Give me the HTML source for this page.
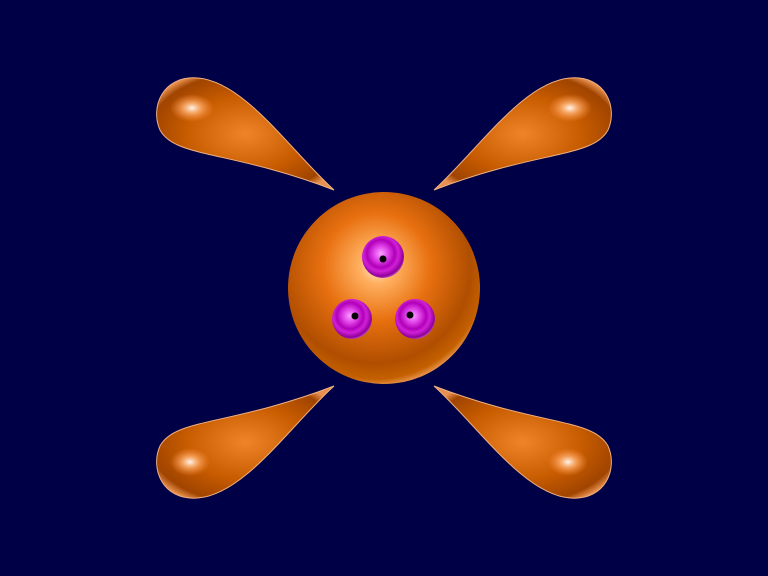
<!DOCTYPE html>
<html><head><meta charset="utf-8"><style>html,body{margin:0;padding:0;background:#000046;}svg{display:block}</style></head>
<body>
<svg width="768" height="576" viewBox="0 0 768 576">
<defs>
<radialGradient id="sph" cx="0.45" cy="0.4" r="0.62" fx="0.47" fy="0.38">
<stop offset="0" stop-color="#fff4e8"/><stop offset="0.15" stop-color="#ffb060"/><stop offset="0.45" stop-color="#e87010"/><stop offset="0.8" stop-color="#b04e00"/><stop offset="0.93" stop-color="#c46000"/><stop offset="1" stop-color="#f0a060"/>
</radialGradient>
<radialGradient id="lobe" cx="0.5" cy="0.5" r="0.6">
<stop offset="0" stop-color="#f08428"/><stop offset="0.55" stop-color="#c85c00"/><stop offset="0.9" stop-color="#a04400"/><stop offset="1" stop-color="#e89050"/>
</radialGradient>
<radialGradient id="hl"><stop offset="0" stop-color="#fff6ee"/><stop offset="0.4" stop-color="#ffb070" stop-opacity="0.8"/><stop offset="1" stop-color="#ff9040" stop-opacity="0"/></radialGradient>
<radialGradient id="mag" cx="0.45" cy="0.42" r="0.6">
<stop offset="0" stop-color="#f8a0ff"/><stop offset="0.3" stop-color="#e040e8"/><stop offset="0.55" stop-color="#b000b8"/><stop offset="0.7" stop-color="#d020d8"/><stop offset="0.9" stop-color="#900098"/><stop offset="1" stop-color="#c060c8"/>
</radialGradient>
</defs>
<rect width="768" height="576" fill="#000046"/>
<g>
<path d="M334,190 C290,150 245,82 198,78 C162,75 150,108 160,130 C175,158 230,150 334,190 Z" fill="url(#lobe)" stroke="#f0b080" stroke-width="1"/>
<ellipse cx="192" cy="108" rx="22" ry="14" fill="url(#hl)"/>
</g>
<g>
<path d="M434,190 C478,150 523,82 570,78 C606,75 618,108 608,130 C593,158 538,150 434,190 Z" fill="url(#lobe)" stroke="#f0b080" stroke-width="1"/>
<ellipse cx="570" cy="108" rx="22" ry="14" fill="url(#hl)"/>
</g>
<g>
<path d="M334,386 C290,426 245,494 198,498 C162,501 150,468 160,446 C175,418 230,426 334,386 Z" fill="url(#lobe)" stroke="#f0b080" stroke-width="1"/>
<ellipse cx="190" cy="462" rx="20" ry="14" fill="url(#hl)"/>
</g>
<g>
<path d="M434,386 C478,426 523,494 570,498 C606,501 618,468 608,446 C593,418 538,426 434,386 Z" fill="url(#lobe)" stroke="#f0b080" stroke-width="1"/>
<ellipse cx="568" cy="462" rx="20" ry="14" fill="url(#hl)"/>
</g>
<circle cx="384" cy="288" r="96" fill="url(#sph)"/>
<g><circle cx="383" cy="257" r="21" fill="url(#mag)"/><circle cx="383" cy="259" r="3.5" fill="#000"/></g>
<g><circle cx="352" cy="319" r="20" fill="url(#mag)"/><circle cx="355" cy="316" r="3.5" fill="#000"/></g>
<g><circle cx="415" cy="319" r="20" fill="url(#mag)"/><circle cx="410" cy="315" r="3.5" fill="#000"/></g>
</svg>
</body></html>
